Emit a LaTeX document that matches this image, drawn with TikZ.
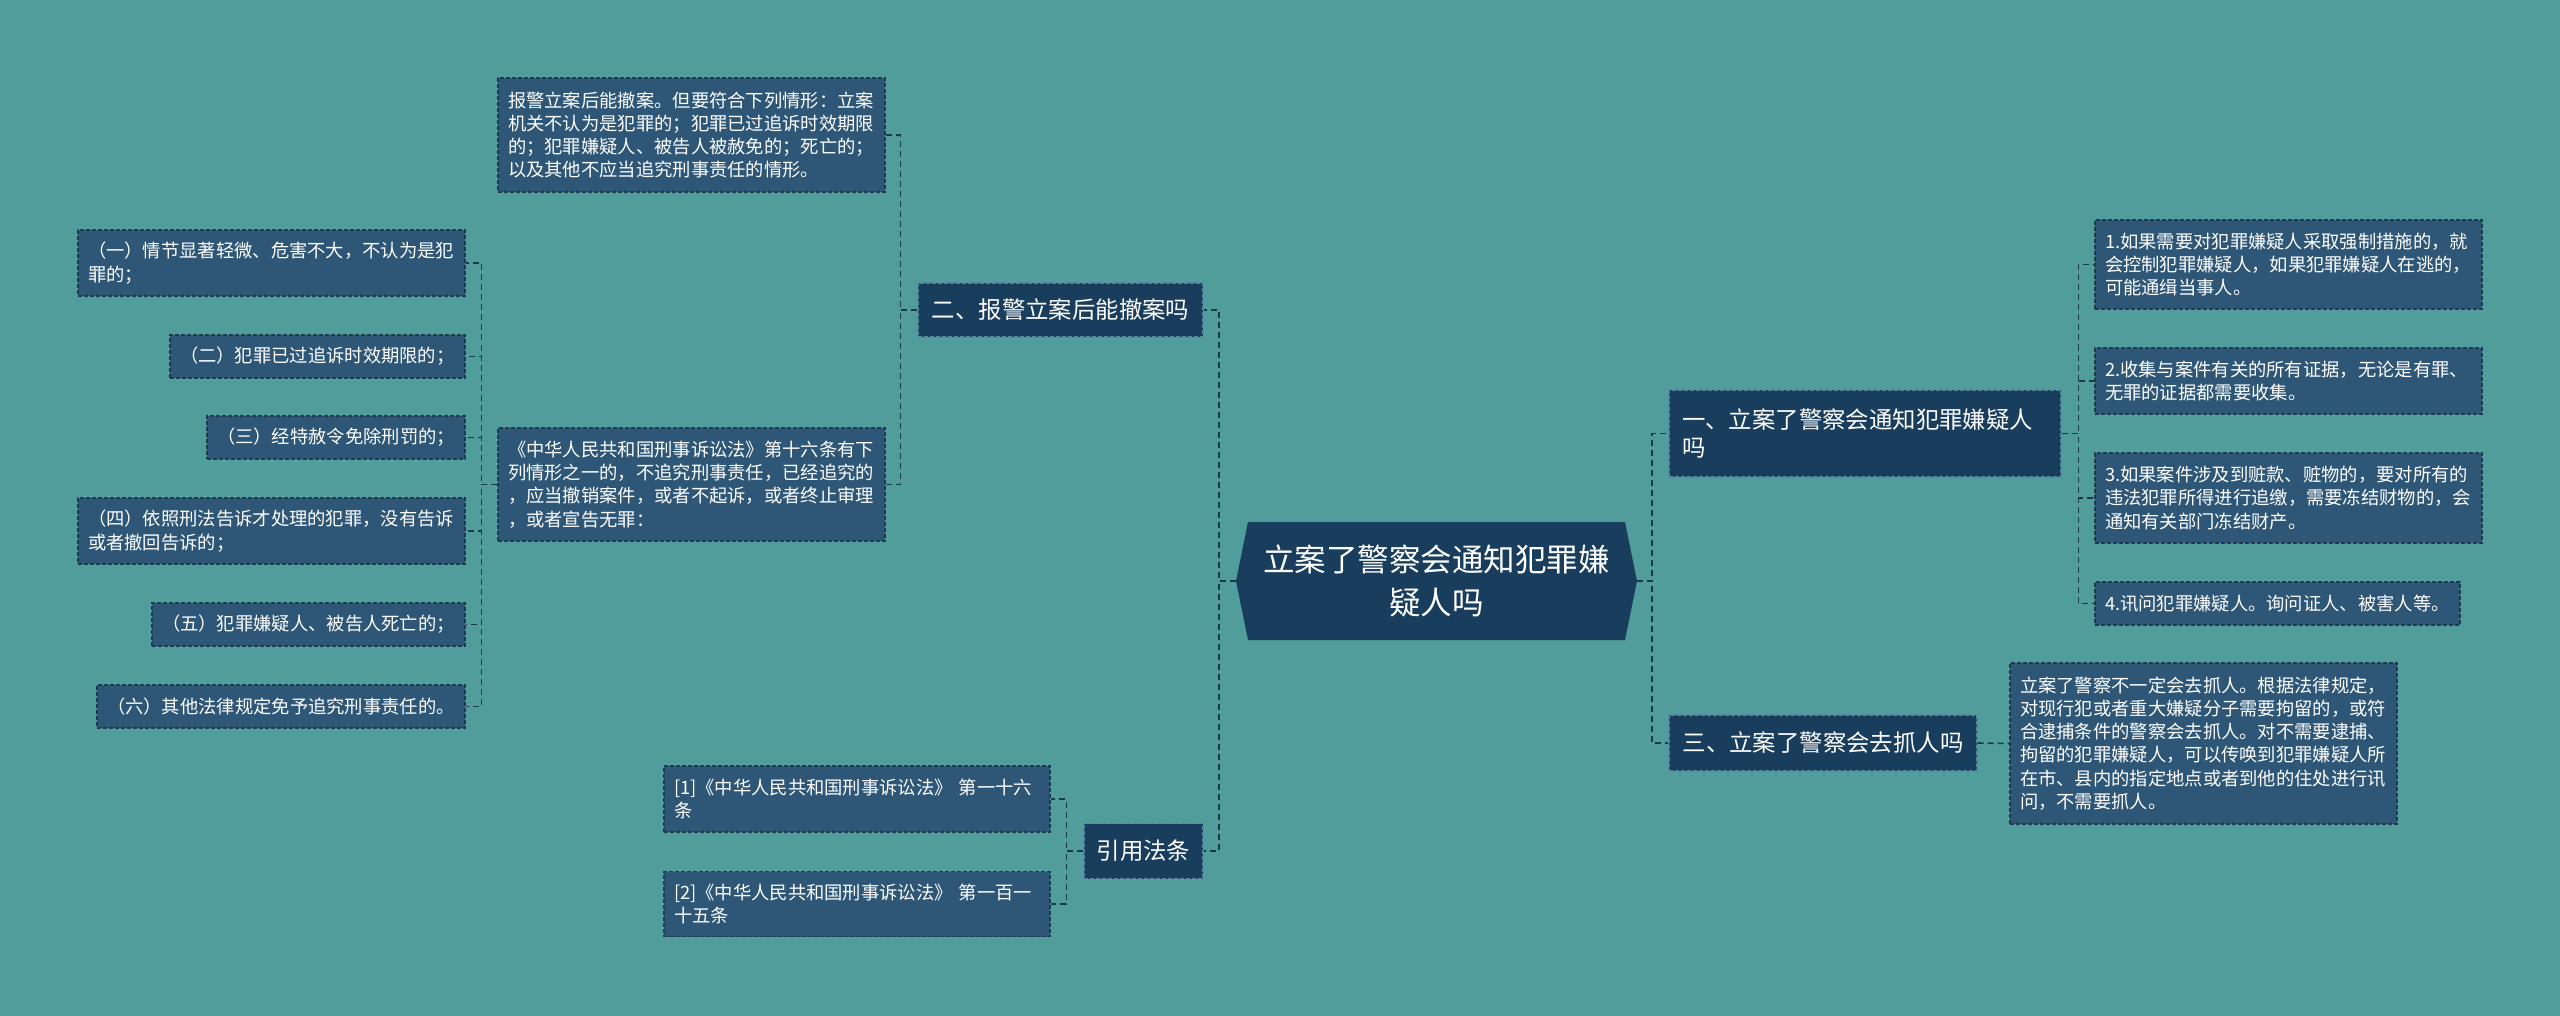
\documentclass[tikz,border=0pt]{standalone}
\usepackage{fontspec}
\setmainfont{Noto Sans CJK SC}
\definecolor{bgc}{RGB}{80,157,155}
\definecolor{leaffill}{RGB}{46,86,118}
\definecolor{mainfill}{RGB}{25,61,92}
\definecolor{leafedge}{RGB}{30,58,82}
\definecolor{mainedge}{RGB}{90,135,160}
\definecolor{linec}{RGB}{28,56,78}
\tikzset{
  leaf/.style={rectangle, fill=leaffill, draw=leafedge, line width=1.2pt, dash pattern=on 4pt off 2pt,
    inner xsep=10pt, inner ysep=0pt, align=left, text=white,
    font=\fontsize{18.3}{23.3}\selectfont},
  mainbox/.style={rectangle, fill=mainfill, draw=mainedge, line width=1.2pt, dash pattern=on 4pt off 2pt,
    inner xsep=13pt, inner ysep=0pt, align=left, text=white,
    font=\fontsize{23.4}{28}\selectfont},
  rootbox/.style={rectangle, inner sep=0pt, align=center, text=white,
    font=\fontsize{31.5}{43}\selectfont},
  conn/.style={draw=linec, line width=1.6pt, dash pattern=on 6pt off 4pt}
}
\begin{document}
\begin{tikzpicture}[x=1pt,y=-1pt]
\useasboundingbox (0,0) rectangle (2560,1016);
\fill[bgc] (0,0) rectangle (2560,1016);

% root
\fill[mainfill] (1248,522) -- (1625,522) -- (1637,581) -- (1625,640) -- (1248,640) -- (1236,581) -- cycle;
\node[rootbox, minimum width=401pt, minimum height=118pt] (root) at (1436.5,581) {立案了警察会通知犯罪嫌\\疑人吗};

% level 1
\node[mainbox, text width=259pt, minimum height=54pt, align=center] (n2) at (1060.5,310) {二、报警立案后能撤案吗};
\node[mainbox, text width=366pt, minimum height=87pt] (n1) at (1865,433.5) {一、立案了警察会通知犯罪嫌疑人\\吗};
\node[mainbox, text width=282pt, minimum height=56pt, align=center] (n3) at (1823,743) {三、立案了警察会去抓人吗};
\node[mainbox, inner xsep=10pt, text width=99pt, minimum height=55pt, align=center] (n4) at (1143.5,851) {引用法条};

% leaves of n2
\node[leaf, text width=367pt, minimum height=114pt] (L0) at (691.5,135) {报警立案后能撤案。但要符合下列情形：立案\\机关不认为是犯罪的；犯罪已过追诉时效期限\\的；犯罪嫌疑人、被告人被赦免的；死亡的；\\以及其他不应当追究刑事责任的情形。};
\node[leaf, text width=367pt, minimum height=113pt] (L16) at (691.5,484.5) {《中华人民共和国刑事诉讼法》第十六条有下\\列情形之一的，不追究刑事责任，已经追究的\\，应当撤销案件，或者不起诉，或者终止审理\\，或者宣告无罪：};

% leaves of L16
\node[leaf, text width=367pt, minimum height=66pt] (a1) at (271.5,263) {（一）情节显著轻微、危害不大，不认为是犯\\罪的；};
\node[leaf, text width=275pt, minimum height=43pt] (a2) at (317.5,356.5) {（二）犯罪已过追诉时效期限的；};
\node[leaf, text width=238pt, minimum height=43pt] (a3) at (336,437.5) {（三）经特赦令免除刑罚的；};
\node[leaf, text width=367pt, minimum height=66pt] (a4) at (271.5,531) {（四）依照刑法告诉才处理的犯罪，没有告诉\\或者撤回告诉的；};
\node[leaf, text width=293pt, minimum height=43pt] (a5) at (308.5,624.5) {（五）犯罪嫌疑人、被告人死亡的；};
\node[leaf, text width=348pt, minimum height=43pt] (a6) at (281,706.5) {（六）其他法律规定免予追究刑事责任的。};

% leaves of n4
\node[leaf, text width=366pt, minimum height=66pt] (r1) at (857,799) {[1]《中华人民共和国刑事诉讼法》~第一十六\\条};
\node[leaf, text width=366pt, minimum height=65pt] (r2) at (857,904) {[2]《中华人民共和国刑事诉讼法》~第一百一\\十五条};

% leaves of n1
\node[leaf, text width=367pt, minimum height=89pt] (b1) at (2288.5,264.5) {1.如果需要对犯罪嫌疑人采取强制措施的，就\\会控制犯罪嫌疑人，如果犯罪嫌疑人在逃的，\\可能通缉当事人。};
\node[leaf, text width=367pt, minimum height=66pt] (b2) at (2288.5,381) {2.收集与案件有关的所有证据，无论是有罪、\\无罪的证据都需要收集。};
\node[leaf, text width=367pt, minimum height=90pt] (b3) at (2288.5,498) {3.如果案件涉及到赃款、赃物的，要对所有的\\违法犯罪所得进行追缴，需要冻结财物的，会\\通知有关部门冻结财产。};
\node[leaf, text width=345pt, minimum height=43pt] (b4) at (2277.5,603.5) {4.讯问犯罪嫌疑人。询问证人、被害人等。};

% leaf of n3
\node[leaf, text width=367pt, minimum height=161pt] (c1) at (2203.5,743.5) {立案了警察不一定会去抓人。根据法律规定，\\对现行犯或者重大嫌疑分子需要拘留的，或符\\合逮捕条件的警察会去抓人。对不需要逮捕、\\拘留的犯罪嫌疑人，可以传唤到犯罪嫌疑人所\\在市、县内的指定地点或者到他的住处进行讯\\问，不需要抓人。};

% connectors
\draw[conn] (root.west) -- ++(-17,0) |- (n2.east);
\draw[conn] (root.west) -- ++(-17,0) |- (n4.east);
\draw[conn] (root.east) -- ++(15,0) |- (n1.west);
\draw[conn] (root.east) -- ++(15,0) |- (n3.west);

\draw[conn] (n2.west) -- ++(-17,0) |- (L0.east);
\draw[conn] (n2.west) -- ++(-17,0) |- (L16.east);

\foreach \t in {a1,a2,a3,a4,a5,a6}
  \draw[conn] (L16.west) -- ++(-16,0) |- (\t.east);

\draw[conn] (n4.west) -- ++(-17,0) |- (r1.east);
\draw[conn] (n4.west) -- ++(-17,0) |- (r2.east);

\foreach \t in {b1,b2,b3,b4}
  \draw[conn] (n1.east) -- ++(17,0) |- (\t.west);

\draw[conn] (n3.east) -- (c1.west);
\end{tikzpicture}
\end{document}
